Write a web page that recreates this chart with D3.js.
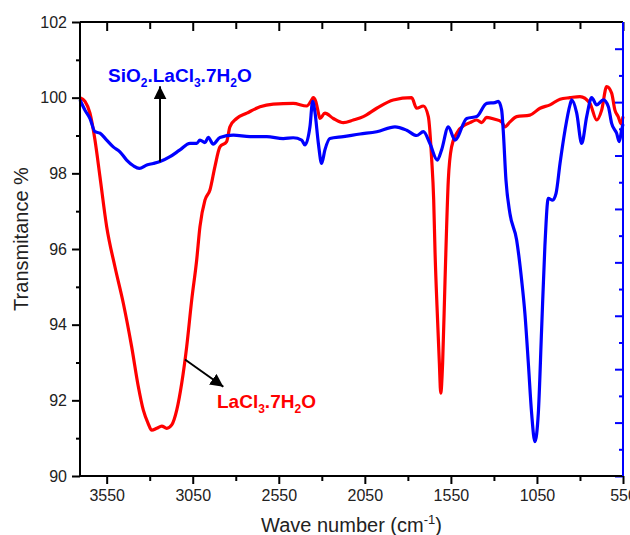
<!DOCTYPE html>
<html>
<head>
<meta charset="utf-8">
<script src="https://cdn.jsdelivr.net/npm/d3@7"></script>
<style>
  body { margin: 0; background: #fff; }
  text { font-family: "Liberation Sans", Arial, sans-serif; }
</style>
</head>
<body>
<svg id="chart" width="630" height="535"></svg>
<script>
// [wavenumber, transmittance %]
const lacl3 = [
  [3705, 100.0], [3676, 99.9], [3647, 99.59], [3618, 98.88], [3589, 97.91], [3550, 96.59],
  [3502, 95.53], [3453, 94.56], [3405, 93.42], [3366, 92.36], [3337, 91.74], [3310, 91.4],
  [3288, 91.21], [3259, 91.26], [3230, 91.32], [3201, 91.26], [3172, 91.35], [3143, 91.74],
  [3114, 92.45], [3085, 93.42], [3056, 94.65], [3027, 95.71], [3008, 96.59], [2979, 97.29],
  [2950, 97.56], [2921, 98.18], [2892, 98.7], [2853, 98.84], [2834, 99.23], [2795, 99.45],
  [2736, 99.59], [2659, 99.76], [2582, 99.83], [2466, 99.85], [2388, 99.78], [2359, 99.94],
  [2350, 100.0], [2335, 99.9], [2320, 99.6], [2311, 99.45], [2282, 99.59], [2233, 99.45],
  [2175, 99.34], [2117, 99.41], [2059, 99.5], [1981, 99.72], [1885, 99.94], [1778, 100.0],
  [1749, 99.72], [1710, 99.78], [1681, 99.5], [1662, 98.4], [1650, 97.3], [1642, 95.9],
  [1629, 94.3], [1617, 92.98], [1609, 92.19], [1598, 92.98], [1584, 95.18], [1565, 97.82],
  [1546, 98.7], [1516, 99.06], [1468, 99.28], [1439, 99.34], [1400, 99.41], [1371, 99.34],
  [1342, 99.48], [1294, 99.43], [1255, 99.36], [1236, 99.23], [1207, 99.36], [1168, 99.5],
  [1091, 99.54], [1032, 99.72], [974, 99.81], [916, 99.96], [858, 100.0], [800, 100.03],
  [742, 99.85], [703, 99.41], [674, 99.67], [645, 100.29], [616, 100.12], [597, 99.67],
  [578, 99.5], [560, 99.3], [550, 99.5]
];

const sio2 = [
  [3705, 99.94], [3676, 99.67], [3647, 99.45], [3618, 99.1], [3589, 99.06], [3550, 98.88],
  [3512, 98.7], [3473, 98.57], [3434, 98.35], [3395, 98.2], [3360, 98.13], [3317, 98.22],
  [3279, 98.26], [3240, 98.31], [3182, 98.44], [3124, 98.62], [3066, 98.79], [3027, 98.79],
  [3008, 98.88], [2979, 98.81], [2960, 98.95], [2931, 98.77], [2892, 98.95], [2814, 99.01],
  [2717, 98.97], [2620, 98.97], [2524, 98.92], [2466, 98.94], [2417, 98.88], [2398, 98.75],
  [2369, 99.23], [2353, 99.9], [2340, 99.62], [2320, 98.79], [2301, 98.26], [2282, 98.62],
  [2253, 98.92], [2175, 98.97], [2078, 99.04], [1981, 99.1], [1875, 99.23], [1807, 99.14],
  [1749, 99.0], [1710, 99.1], [1672, 98.79], [1629, 98.35], [1604, 98.62], [1565, 99.23],
  [1526, 98.88], [1458, 99.45], [1400, 99.5], [1342, 99.85], [1294, 99.87], [1274, 99.9],
  [1255, 99.67], [1246, 99.14], [1230, 97.82], [1207, 96.94], [1168, 96.24], [1139, 95.18],
  [1120, 94.3], [1100, 92.98], [1081, 91.66], [1062, 90.91], [1042, 91.66], [1023, 93.86],
  [1004, 96.06], [984, 97.34], [959, 97.29], [939, 97.47], [916, 98.26], [887, 99.14],
  [858, 99.81], [848, 99.94], [819, 99.59], [790, 98.79], [761, 99.5], [732, 100.0],
  [703, 99.81], [664, 99.94], [635, 99.76], [616, 99.32], [587, 99.06], [572, 98.84],
  [558, 99.14], [550, 99.3]
];

const xMajorTicks = [3550, 3050, 2550, 2050, 1550, 1050, 550];
const xMinorTicks = [3300, 2800, 2300, 1800, 1300, 800];
const yMajorTicks = [90, 92, 94, 96, 98, 100, 102];
const yMinorTicks = [91, 93, 95, 97, 99, 101];

const width = 630, height = 535;
const margin = {top: 22, right: 7, bottom: 59, left: 80};
const svg = d3.select("#chart");

const x = d3.scaleLinear().domain([3705, 550]).range([margin.left, width - margin.right]);
const y = d3.scaleLinear().domain([90, 102]).range([height - margin.bottom, margin.top]);
// right axis: blue, no labels, own spacing
const yRight = d3.scaleLinear().domain([0, 8.5]).range([height - margin.bottom, margin.top]);

const line = d3.line()
  .x(d => x(d[0]))
  .y(d => y(d[1]))
  .curve(d3.curveMonotoneX);

svg.append("path").datum(lacl3)
  .attr("fill", "none").attr("stroke", "#ff0000").attr("stroke-width", 3.2)
  .attr("stroke-linejoin", "round").attr("d", line);

svg.append("path").datum(sio2)
  .attr("fill", "none").attr("stroke", "#0000ff").attr("stroke-width", 3.2)
  .attr("stroke-linejoin", "round").attr("d", line);

function styleAxis(g, color) {
  g.selectAll(".domain").remove();
  g.selectAll(".tick line").attr("stroke", color).attr("stroke-width", 2);
  g.selectAll(".tick text").attr("fill", "#222").style("font-size", "16px")
    .style("font-family", "'Liberation Sans', Arial, sans-serif");
}

// bottom
const gB = svg.append("g").attr("transform", `translate(0,${height - margin.bottom})`);
gB.append("g").call(d3.axisBottom(x).tickValues(xMajorTicks).tickSize(8).tickPadding(6).tickFormat(d3.format("d")))
  .call(g => styleAxis(g, "#000"));
gB.append("g").call(d3.axisBottom(x).tickValues(xMinorTicks).tickSize(5).tickFormat(""))
  .call(g => styleAxis(g, "#000"));

// top (inward)
const gT = svg.append("g").attr("transform", `translate(0,${margin.top})`);
gT.append("g").call(d3.axisBottom(x).tickValues(xMajorTicks).tickSize(9).tickFormat(""))
  .call(g => styleAxis(g, "#000"));
gT.append("g").call(d3.axisBottom(x).tickValues(xMinorTicks).tickSize(7).tickFormat(""))
  .call(g => styleAxis(g, "#000"));

// left
const gL = svg.append("g").attr("transform", `translate(${margin.left},0)`);
gL.append("g").call(d3.axisLeft(y).tickValues(yMajorTicks).tickSize(8).tickPadding(5))
  .call(g => styleAxis(g, "#000"));
gL.append("g").call(d3.axisLeft(y).tickValues(yMinorTicks).tickSize(4).tickFormat(""))
  .call(g => styleAxis(g, "#000"));

// right (blue, inward)
const gR = svg.append("g").attr("transform", `translate(${width - margin.right},0)`);
gR.append("g").call(d3.axisLeft(yRight).tickValues(d3.range(0, 9, 1)).tickSize(8).tickFormat(""))
  .call(g => styleAxis(g, "#0000ff"));
gR.append("g").call(d3.axisLeft(yRight).tickValues(d3.range(0.5, 8.5, 1)).tickSize(4).tickFormat(""))
  .call(g => styleAxis(g, "#0000ff"));

// frame
const x0 = margin.left, x1 = width - margin.right, y0 = margin.top, y1 = height - margin.bottom;
svg.append("line").attr("x1", x0).attr("x2", x1).attr("y1", y1).attr("y2", y1).attr("stroke", "#000").attr("stroke-width", 2);
svg.append("line").attr("x1", x0).attr("x2", x1).attr("y1", y0).attr("y2", y0).attr("stroke", "#000").attr("stroke-width", 2);
svg.append("line").attr("x1", x0).attr("x2", x0).attr("y1", y0).attr("y2", y1).attr("stroke", "#000").attr("stroke-width", 2);
svg.append("line").attr("x1", x1).attr("x2", x1).attr("y1", y0).attr("y2", y1).attr("stroke", "#0000ff").attr("stroke-width", 2);

// axis titles
const xt = svg.append("text").attr("x", (x0 + x1) / 2).attr("y", 532)
  .attr("text-anchor", "middle").attr("fill", "#222").style("font-size", "20px");
xt.append("tspan").text("Wave number (cm");
xt.append("tspan").attr("dy", -8).style("font-size", "13px").text("-1");
xt.append("tspan").attr("dy", 8).text(")");

svg.append("text").attr("transform", `translate(28,${(y0 + y1) / 2 - 10}) rotate(-90)`)
  .attr("text-anchor", "middle").attr("fill", "#222").style("font-size", "20px")
  .text("Transmitance %");

// annotations
svg.append("defs").append("marker")
  .attr("id", "arrow").attr("viewBox", "0 0 10 10").attr("refX", 10).attr("refY", 5)
  .attr("markerUnits", "userSpaceOnUse").attr("markerWidth", 13).attr("markerHeight", 13)
  .attr("orient", "auto")
  .append("path").attr("d", "M0,0 L10,5 L0,10 Z").attr("fill", "#000");

svg.append("line")
  .attr("x1", x(3240)).attr("y1", y(98.31)).attr("x2", x(3240)).attr("y2", y(100.3))
  .attr("stroke", "#000").attr("stroke-width", 2).attr("marker-end", "url(#arrow)");

svg.append("line")
  .attr("x1", x(3095)).attr("y1", y(93.08)).attr("x2", x(2872)).attr("y2", y(92.36))
  .attr("stroke", "#000").attr("stroke-width", 2).attr("marker-end", "url(#arrow)");

function formula(parts, xPos, yPos, color) {
  const t = svg.append("text").attr("x", xPos).attr("y", yPos)
    .attr("fill", color).style("font-size", "19px").style("font-weight", "bold");
  let shifted = false;
  parts.forEach(p => {
    const isSub = typeof p !== "string";
    const s = t.append("tspan").text(isSub ? p.sub : p);
    if (isSub && !shifted) { s.attr("dy", 5).style("font-size", "12px"); shifted = true; }
    else if (!isSub && shifted) { s.attr("dy", -5); shifted = false; }
  });
}

formula(["SiO", {sub: "2"}, ".LaCl", {sub: "3"}, ".7H", {sub: "2"}, "O"], x(3542), y(100.42), "#0000ff");
formula(["LaCl", {sub: "3"}, ".7H", {sub: "2"}, "O"], x(2909), y(91.8), "#ff0000");
</script>
</body>
</html>
